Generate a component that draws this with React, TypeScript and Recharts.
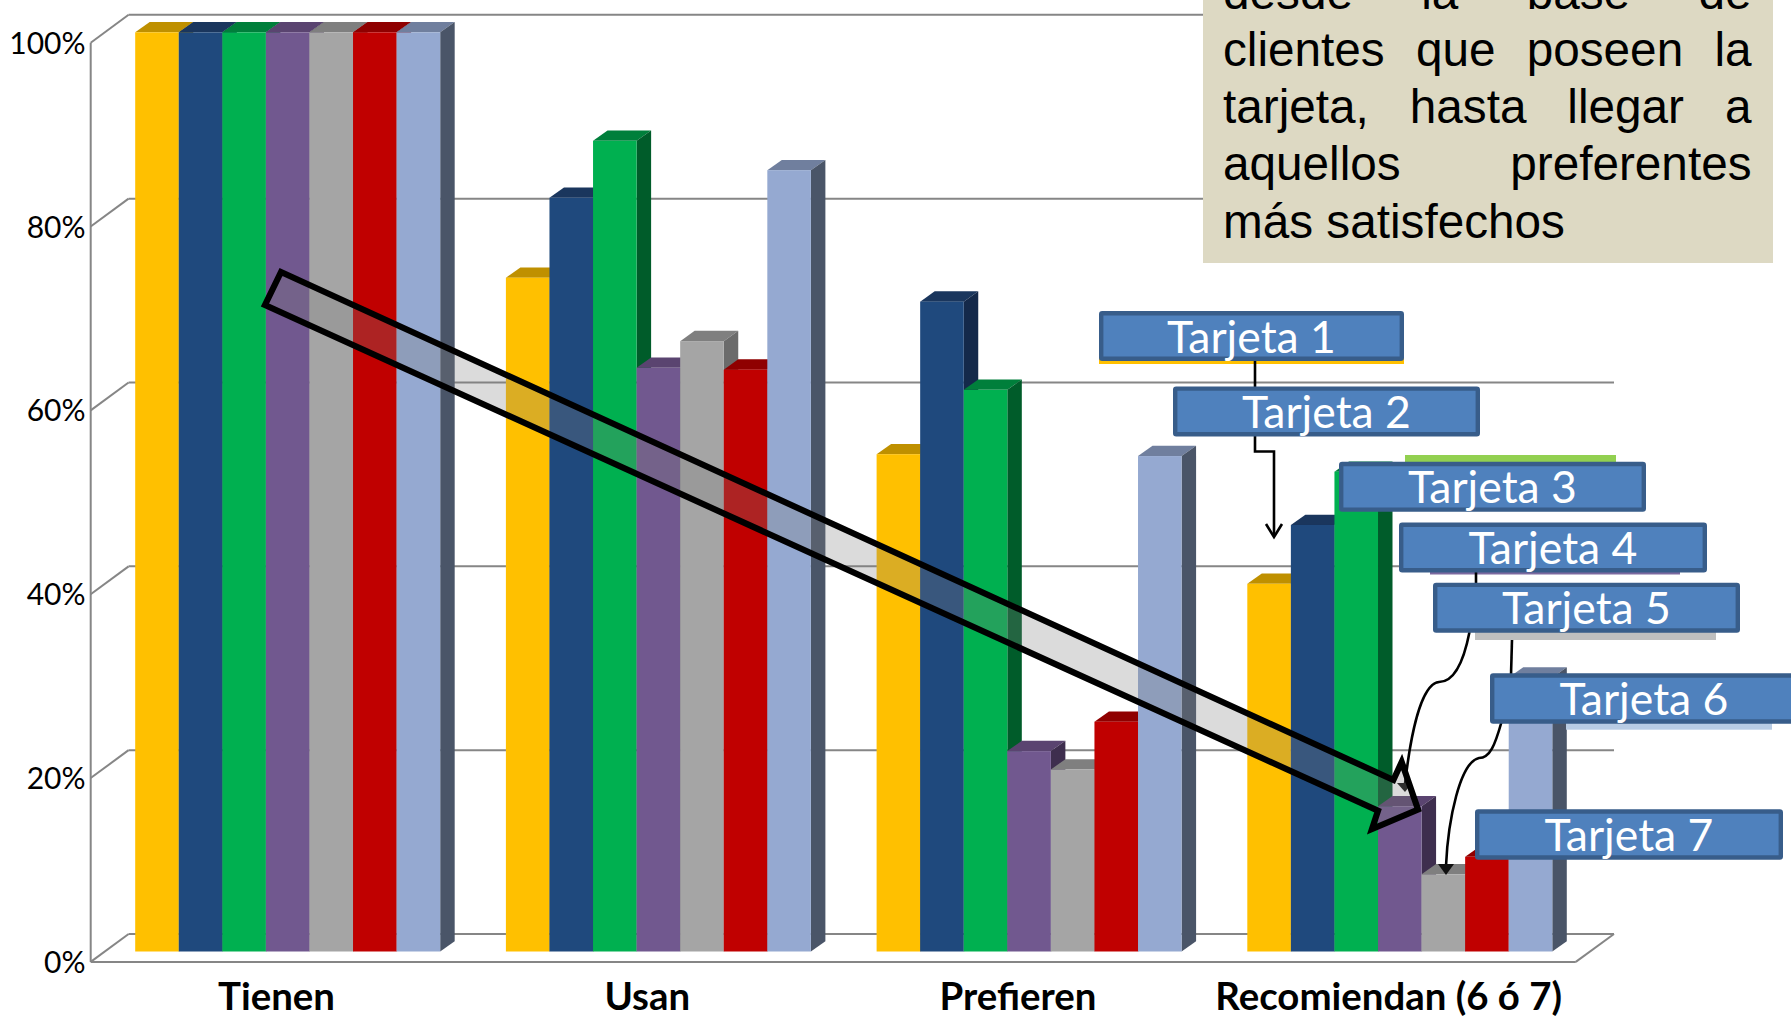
import { BarChart, Bar, XAxis, YAxis, CartesianGrid } from "recharts"

const categories = ["Tienen", "Usan", "Prefieren", "Recomiendan (6 ó 7)"]
const yTicks = [0, 20, 40, 60, 80, 100]

const tarjeta1 = [100, 73.3, 54.1, 40]
const tarjeta2 = [100, 82, 70.7, 46.4]
const tarjeta3 = [100, 88.2, 61.1, 52.2]
const tarjeta4 = [100, 63.5, 21.8, 15.8]
const tarjeta5 = [100, 66.4, 19.8, 8.4]
const tarjeta6 = [100, 63.3, 25, 10.3]
const tarjeta7 = [100, 85, 53.9, 29.8]

const data = categories.map((name, i) => ({
  name,
  tarjeta1: tarjeta1[i],
  tarjeta2: tarjeta2[i],
  tarjeta3: tarjeta3[i],
  tarjeta4: tarjeta4[i],
  tarjeta5: tarjeta5[i],
  tarjeta6: tarjeta6[i],
  tarjeta7: tarjeta7[i],
}))

const series = [
  { key: "tarjeta1", front: "#FFC000", top: "#BF9000", side: "#A67C00" },
  { key: "tarjeta2", front: "#1F497D", top: "#1A365D", side: "#14294A" },
  { key: "tarjeta3", front: "#00B050", top: "#007F3B", side: "#005C2A" },
  { key: "tarjeta4", front: "#71588F", top: "#5A4470", side: "#3E2E4E" },
  { key: "tarjeta5", front: "#A5A5A5", top: "#7F7F7F", side: "#6B6B6B" },
  { key: "tarjeta6", front: "#C00000", top: "#8F0000", side: "#7A0000" },
  { key: "tarjeta7", front: "#95A9D1", top: "#707F9E", side: "#4A5568" },
]

// chart layout
const WIDTH = 1791
const HEIGHT = 1018
const PLOT_TOP = 32.3
const PLOT_BOTTOM = 951.5
const PLOT_LEFT = 102.2
const PLOT_RIGHT = 1585
const BAR_DX = 14.5
const BAR_DY = 10.3
const GRID_COLOR = "#868686"
const CALIBRI = "Lato, sans-serif"

const calloutBoxes = [
  { label: "Tarjeta 1", x: 1099, y: 311, w: 305, h: 50 },
  { label: "Tarjeta 2", x: 1173, y: 386.4, w: 307, h: 50 },
  { label: "Tarjeta 3", x: 1339, y: 461.8, w: 307, h: 50 },
  { label: "Tarjeta 4", x: 1399, y: 522.5, w: 308, h: 50 },
  { label: "Tarjeta 5", x: 1433, y: 582.7, w: 307, h: 50 },
  { label: "Tarjeta 6", x: 1490, y: 673.3, w: 308, h: 50.4 },
  { label: "Tarjeta 7", x: 1475, y: 809.3, w: 308, h: 50.4 },
]

const swatches = [
  { x: 1099, y: 358, w: 305, h: 6, fill: "#FFC000" },
  { x: 1405, y: 455, w: 211, h: 10, fill: "#92D050" },
  { x: 1430, y: 570, w: 250, h: 4.5, fill: "#7C6AA0" },
  { x: 1475, y: 630, w: 241, h: 10, fill: "#BFBFBF" },
  { x: 1566, y: 720, w: 206, h: 9.7, fill: "#B8CCE4" },
]

const textLines = ["desde la base de", "clientes que poseen la", "tarjeta, hasta llegar a", "aquellos preferentes", "más satisfechos"]

function Box3D({ x, y, width, height, colors }: any) {
  const x2 = x + width
  const y2 = y + height
  return (
    <g>
      <path d={`M${x} ${y}L${x + BAR_DX} ${y - BAR_DY}L${x2 + BAR_DX} ${y - BAR_DY}L${x2} ${y}Z`} fill={colors.top} />
      <path d={`M${x2} ${y}L${x2 + BAR_DX} ${y - BAR_DY}L${x2 + BAR_DX} ${y2 - BAR_DY}L${x2} ${y2}Z`} fill={colors.side} />
      <rect x={x} y={y} width={width} height={height} fill={colors.front} />
    </g>
  )
}

// gridlines sit on the back wall, with a diagonal to the front axis
function GridLine({ y1 }: any) {
  const back = y1 - 17.5
  const front = y1 + 10.4
  const isFloor = Math.abs(y1 - PLOT_BOTTOM) < 1
  const line = { stroke: GRID_COLOR, strokeWidth: 2 }
  return (
    <g>
      <line x1={128.6} y1={back} x2={1614} y2={back} {...line} />
      <line x1={90.7} y1={front} x2={128.6} y2={back} {...line} />
      {isFloor && (
        <>
          <line x1={90.7} y1={front} x2={1575.8} y2={front} {...line} />
          <line x1={1575.8} y1={front} x2={1614} y2={back} {...line} />
          <line x1={90.7} y1={front} x2={90.7} y2={PLOT_TOP + 10.4} {...line} />
        </>
      )}
    </g>
  )
}

function YTick({ y, payload }: any) {
  return (
    <text x={85.5} y={y + 21.5} textAnchor="end" fontFamily={CALIBRI} fontSize={30} fill="#000">
      {payload.value}%
    </text>
  )
}

function XTick({ x, payload }: any) {
  return (
    <text x={x - 11} y={1009.8} textAnchor="middle" fontFamily={CALIBRI} fontWeight={700} fontSize={38.4} fill="#000">
      {payload.value}
    </text>
  )
}

function Annotations() {
  return (
    <svg width={WIDTH} height={HEIGHT} style={{ position: "absolute", left: 0, top: 0 }}>
      {swatches.map((s, i) => (
        <rect key={i} x={s.x} y={s.y} width={s.w} height={s.h} fill={s.fill} />
      ))}
      <g fill="none" stroke="#000" strokeWidth={2.6}>
        <path d="M1255 361V388" />
        <path d="M1255 436V451.5H1274V536" />
        <path d="M1266 524L1274 537L1282 524" />
        <path d="M1476 572V584" />
        <path d="M1469.5 632C1464 660 1455 682 1439 682C1420 684 1410 740 1405 784" />
        <path d="M1512 640L1511 675" />
        <path d="M1501.5 722C1495 745 1490 758 1479 758C1460 762 1448 820 1446 866" />
      </g>
      <path d="M1397 783L1412 783L1405 792Z" fill="#111" />
      <path d="M1438 864L1454 864L1446 875Z" fill="#111" />
      <path
        d="M281 272L1393.4 780L1401.7 762L1418 809.5L1372 829L1378 810.7L265 305Z"
        fill="rgba(126,126,126,0.28)"
        stroke="#000"
        strokeWidth={6.2}
        strokeMiterlimit={10}
      />
      {calloutBoxes.map((b) => (
        <g key={b.label}>
          <rect x={b.x + 2.2} y={b.y + 2.2} width={b.w - 4.4} height={b.h - 4.4} rx={1} fill="#4F81BD" stroke="#385D8A" strokeWidth={4.4} />
          <text x={b.x + b.w / 2} y={b.y + b.h / 2 + 16.5} textAnchor="middle" fontFamily={CALIBRI} fontSize={44.5} fill="#fff">
            {b.label}
          </text>
        </g>
      ))}
    </svg>
  )
}

function TextBox() {
  return (
    <div style={{ position: "absolute", left: 1203, top: 0, width: 570, height: 262.7, background: "#DDD9C3", overflow: "hidden" }}>
      <div style={{ position: "absolute", left: 20, top: -36.5, width: 528.5, fontFamily: "'Liberation Sans', Arial, sans-serif", fontSize: 47.7, lineHeight: "57.3px", color: "#000" }}>
        {textLines.map((line, i) => (
          <div key={i} style={{ textAlign: "justify", textAlignLast: i < textLines.length - 1 ? "justify" : "left" }}>
            {line}
          </div>
        ))}
      </div>
    </div>
  )
}

export default function App() {
  return (
    <div style={{ position: "absolute", left: 0, top: 0, width: WIDTH, height: HEIGHT, overflow: "hidden", background: "#fff" }}>
      <BarChart
        width={WIDTH}
        height={HEIGHT}
        data={data}
        barGap={0}
        barSize={43.57}
        margin={{ top: PLOT_TOP, bottom: HEIGHT - PLOT_BOTTOM - 1, left: PLOT_LEFT - 1, right: WIDTH - PLOT_RIGHT }}
        style={{ position: "absolute", left: 0, top: 0 }}
      >
        <CartesianGrid vertical={false} horizontal={(props: any) => <GridLine key={props.key ?? props.y1} {...props} />} />
        <XAxis dataKey="name" height={1} axisLine={false} tickLine={false} interval={0} tick={<XTick />} />
        <YAxis width={1} domain={[0, 100]} ticks={yTicks} axisLine={false} tickLine={false} interval={0} tick={<YTick />} />
        {series.map((s) => (
          <Bar key={s.key} dataKey={s.key} isAnimationActive={false} shape={(p: any) => <Box3D {...p} colors={s} />} />
        ))}
      </BarChart>
      <TextBox />
      <Annotations />
    </div>
  )
}
